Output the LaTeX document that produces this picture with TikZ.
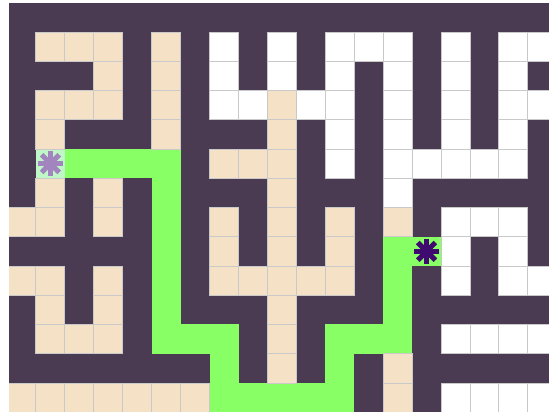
\documentclass[tikz,border=0pt]{standalone}
\usepackage{tikz}
\usetikzlibrary{calc}
\definecolor{Wall}{HTML}{4B3B52}
\definecolor{Seen}{HTML}{F5E1C5}
\definecolor{Route}{HTML}{87FF65}
\definecolor{StartBg}{HTML}{C0F7C6}
\definecolor{StartMark}{HTML}{A285BE}
\definecolor{GoalMark}{HTML}{3F0B6E}
\definecolor{Grid}{HTML}{C9C9C9}

\begin{document}
\begin{tikzpicture}[
    x=1cm, y=1.0107cm,
    opencell/.style={draw=Grid, line width=0.9pt, fill=white},
    seencell/.style={draw=Grid, line width=0.9pt, fill=Seen},
    routecell/.style={fill=Route},
    endcell/.style={minimum width=1cm, minimum height=1.0107cm,
                    inner sep=0pt, outer sep=0pt},
    spoke/.style={line width=5pt}
  ]
  \useasboundingbox (-0.242,0.094) rectangle (18.73,-13.99);
  \clip (0.07,-0.04) rectangle (18.73,-13.99);
  \fill[Wall] (0,0) rectangle (19,-14);

  % path found
  \foreach \r/\cols in {5/{2,3,4,5}, 6/{5}, 7/{5}, 8/{5,13}, 9/{5,13}, 10/{5,13},
                        11/{5,6,7,11,12,13}, 12/{7,11}, 13/{7,8,9,10,11}}
    \foreach \c in \cols
      \fill[routecell] (\c,-\r) rectangle ++(1,-1);

  \node[endcell, fill=StartBg] (start) at (1.5,-5.5) {};
  \node[endcell, fill=Route] (goal) at (14.5,-8.5) {};

  % cells not reached
  \foreach \r/\cols in {1/{7,9,11,12,13,15,17,18}, 2/{7,9,11,13,15,17},
                        3/{7,8,10,11,13,15,17,18}, 4/{11,13,15,17},
                        5/{11,13,14,15,16,17}, 6/{13}, 7/{15,16,17}, 8/{15,17},
                        9/{15,17,18}, 11/{15,16,17,18}, 13/{15,16,17,18}}
    \foreach \c in \cols
      \draw[opencell] (\c,-\r) rectangle ++(1,-1);

  % cells visited
  \foreach \r/\cols in {1/{1,2,3,5}, 2/{3,5}, 3/{1,2,3,5,9}, 4/{1,5,9}, 5/{7,8,9},
                        6/{1,3,9}, 7/{0,1,3,7,9,11,13}, 8/{7,9,11},
                        9/{0,1,3,7,8,9,10,11}, 10/{1,3,9}, 11/{1,2,3,9},
                        12/{9,13}, 13/{0,1,2,3,4,5,6,13}}
    \foreach \c in \cols
      \draw[seencell] (\c,-\r) rectangle ++(1,-1);

  \foreach \a in {0,45,90,135} {
    \draw[spoke, StartMark] ($(start)+(\a:0.43)$) -- ($(start)+(\a+180:0.43)$);
    \draw[spoke, GoalMark] ($(goal)+(\a:0.43)$) -- ($(goal)+(\a+180:0.43)$);
  }
\end{tikzpicture}
\end{document}
